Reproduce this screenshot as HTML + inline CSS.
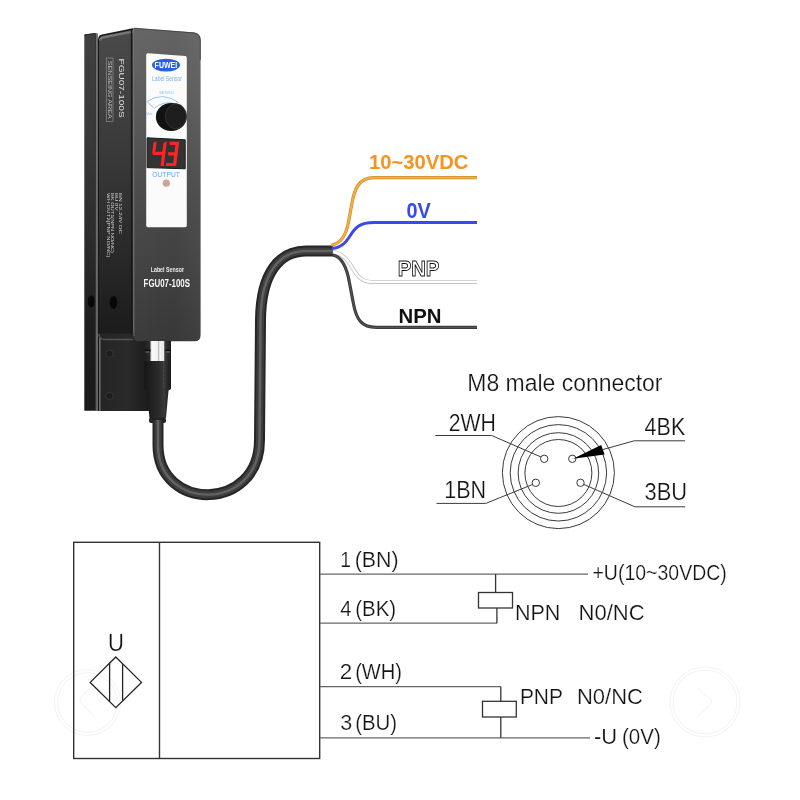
<!DOCTYPE html>
<html><head><meta charset="utf-8"><style>
html,body{margin:0;padding:0;background:#fff;width:800px;height:800px;overflow:hidden}
svg{display:block;position:absolute;left:0;top:0;will-change:transform}
text{font-family:"Liberation Sans",sans-serif}
</style></head><body>
<svg width="800" height="800" viewBox="0 0 800 800">
<defs>
  <linearGradient id="gStrip" x1="0" y1="33" x2="0" y2="411" gradientUnits="userSpaceOnUse">
    <stop offset="0" stop-color="#404040"/><stop offset="0.3" stop-color="#383838"/><stop offset="0.58" stop-color="#2a2a2a"/><stop offset="0.76" stop-color="#1e1e1e"/><stop offset="1" stop-color="#1a1a1a"/>
  </linearGradient>
  <linearGradient id="gLine" x1="0" y1="33" x2="0" y2="411" gradientUnits="userSpaceOnUse">
    <stop offset="0" stop-color="#6a6a6a"/><stop offset="0.5" stop-color="#666"/><stop offset="1" stop-color="#5a5a5a"/>
  </linearGradient>
  <linearGradient id="gSide" x1="0" y1="28" x2="0" y2="334" gradientUnits="userSpaceOnUse">
    <stop offset="0" stop-color="#4a4a4a"/><stop offset="0.4" stop-color="#3a3a3a"/><stop offset="0.72" stop-color="#2a2a2a"/><stop offset="0.95" stop-color="#1e1e1e"/><stop offset="1" stop-color="#1c1c1c"/>
  </linearGradient>
  <linearGradient id="gPlate" x1="0" y1="0" x2="1" y2="0">
    <stop offset="0" stop-color="#242424"/><stop offset="0.55" stop-color="#2a2a2a"/><stop offset="1" stop-color="#1c1c1c"/>
  </linearGradient>
  <linearGradient id="gFront" x1="0" y1="28" x2="0" y2="341" gradientUnits="userSpaceOnUse">
    <stop offset="0" stop-color="#636363"/><stop offset="0.2" stop-color="#5c5c5c"/><stop offset="0.5" stop-color="#4a4a4a"/><stop offset="1" stop-color="#383838"/>
  </linearGradient>
  <linearGradient id="gFrontH" x1="0" y1="0" x2="1" y2="0">
    <stop offset="0" stop-color="#fff" stop-opacity="0.02"/><stop offset="0.6" stop-color="#fff" stop-opacity="0"/><stop offset="1" stop-color="#fff" stop-opacity="0.04"/>
  </linearGradient>
  <linearGradient id="gNut" x1="144" y1="0" x2="171" y2="0" gradientUnits="userSpaceOnUse">
    <stop offset="0" stop-color="#1e1e1e"/><stop offset="0.22" stop-color="#2c2c2c"/><stop offset="0.26" stop-color="#d8d8d8"/><stop offset="0.3" stop-color="#fafafa"/><stop offset="0.52" stop-color="#f0f0f0"/><stop offset="0.55" stop-color="#9a9a9a"/><stop offset="0.58" stop-color="#f4f4f4"/><stop offset="0.73" stop-color="#eaeaea"/><stop offset="0.77" stop-color="#3a3a3a"/><stop offset="1" stop-color="#1a1a1a"/>
  </linearGradient>
  <linearGradient id="gBoot" x1="144" y1="0" x2="171" y2="0" gradientUnits="userSpaceOnUse">
    <stop offset="0" stop-color="#161616"/><stop offset="0.3" stop-color="#222"/><stop offset="0.6" stop-color="#2e2e2e"/><stop offset="0.75" stop-color="#3a3a3a"/><stop offset="0.85" stop-color="#2a2a2a"/><stop offset="1" stop-color="#1a1a1a"/>
  </linearGradient>
</defs>
<rect width="800" height="800" fill="#fff"/>
<g id="wm" fill="none" stroke="#f3f3f3" stroke-width="1">
  <circle cx="87.5" cy="702.5" r="33"/>
  <circle cx="87.5" cy="702.5" r="29.8"/>
  <path d="M95 683 L82 696 Q78 700 82 704 L95 717"/>
  <circle cx="705" cy="702" r="35"/>
  <circle cx="705" cy="702" r="32"/>
  <path d="M698 688 L711 700 Q713 702 711 704 L698 716"/>
</g>

<!-- ===== SENSOR (placeholder) ===== -->
<g id="sensor">
  <!-- left bracket strip -->
  <path d="M84.3 35.2 Q84.5 34.5 86 34.3 L95.4 33.3 L95.4 410.8 L84.3 410.8 Z" fill="url(#gStrip)"/>
  <path d="M84.5 35 L95.4 33.4" fill="none" stroke="#222" stroke-width="1"/>
  <rect x="95.2" y="33.3" width="1.4" height="377.5" fill="#1a1a1a"/>
  <rect x="96.3" y="33.3" width="1.6" height="377.5" fill="url(#gLine)"/>
  <!-- bottom back plate -->
  <path d="M98 333 L149.5 333 L149.5 411 L98 411 Z" fill="url(#gPlate)"/>
  <path d="M99 334 Q99.6 339.3 104 339.5 L133 339.5" fill="none" stroke="#555" stroke-width="1.3"/>
  <rect x="98.8" y="338" width="1.8" height="73" fill="#6a6a6a"/>
  <rect x="97.9" y="338" width="1" height="73" fill="#151515"/>
  <!-- middle side face -->
  <path d="M97.9 40 Q98.2 34.8 102 34.4 L133.5 28 L133.5 333.5 L97.9 333.5 Z" fill="url(#gSide)"/>
  <path d="M99 38.5 Q99.5 35.6 102.5 35.3 L133 29.3" fill="none" stroke="#111" stroke-width="1.1"/>
  <path d="M100 40.5 Q100.6 37.6 103 37.3 L133 31.6" fill="none" stroke="#777" stroke-width="2.2"/>
  <rect x="97.9" y="39" width="1.1" height="294.5" fill="#151515"/>
  <rect x="130.8" y="30" width="1.4" height="303" fill="#1a1a1a"/>
  <!-- holes -->
  <ellipse cx="91.2" cy="301.5" rx="3.4" ry="6" fill="#080808"/>
  <ellipse cx="113.5" cy="302.4" rx="3.8" ry="6.5" fill="#080808"/>
  <!-- screws on plate -->
  <circle cx="109.5" cy="353.7" r="3.7" fill="#1e1e1e" stroke="#383838" stroke-width="0.9"/>
  <circle cx="109.5" cy="395.9" r="3.7" fill="#1e1e1e" stroke="#383838" stroke-width="0.9"/>
  <!-- front face -->
  <path d="M133.5 27.9 L194 32.6 Q200.5 33.5 200.6 40 L200.6 335 Q200.6 341.3 194.5 341.3 L139 341.3 Q133.5 341.3 133.5 335.5 Z" fill="url(#gFront)"/>
  <path d="M133.5 27.9 L194 32.6 Q200.5 33.5 200.6 40 L200.6 335 Q200.6 341.3 194.5 341.3 L139 341.3 Q133.5 341.3 133.5 335.5 Z" fill="url(#gFrontH)"/>
  <line x1="133.9" y1="30" x2="133.9" y2="336" stroke="#666" stroke-width="1"/>
  <path d="M134 28.2 L194 32.9 Q200.2 33.8 200.3 40 L200.3 60" fill="none" stroke="#3a3a3a" stroke-width="0.8"/>
  <!-- white label -->
  <path d="M148 53.2 L185 56 Q186.8 56.2 186.8 58 L186.8 225.2 Q186.8 227.2 185 227.2 L148 227.2 Q146.2 227.2 146.2 225.2 L146.2 55.2 Q146.2 53.1 148 53.2 Z" fill="#fbfbfb"/>
  <ellipse cx="166" cy="65.1" rx="14" ry="6.4" fill="#2b5fe0"/>
  <text x="154.6" y="67.8" font-size="8.4" font-weight="bold" fill="#fff" textLength="22.6" lengthAdjust="spacingAndGlyphs">FUWEI</text>
  <text x="152" y="80.6" font-size="6.6" fill="#7ab4f0" textLength="30" lengthAdjust="spacingAndGlyphs">Label Sensor</text>
  <text x="159" y="94" font-size="4.4" fill="#8cc0f0" textLength="15" lengthAdjust="spacingAndGlyphs">SENSO</text>
  <path d="M146.9 101.5 Q163 91 178.8 102.8 M154.4 108.4 Q163 100 178 104 M146.9 101.5 L154.4 108.4" fill="none" stroke="#8ec2f2" stroke-width="0.9"/>
  <text x="146.3" y="115.2" font-size="4.4" fill="#8cc0f0" textLength="6.2" lengthAdjust="spacingAndGlyphs">Max</text>
  <!-- knob -->
  <ellipse cx="171.2" cy="117" rx="15.3" ry="14" fill="#121212"/>
  <ellipse cx="176" cy="116.3" rx="10.5" ry="12.5" fill="#1e1e1e" stroke="#3a3a3a" stroke-width="0.8"/>
  <!-- display -->
  <path d="M147.1 137.8 L185.2 139.8 L185.2 168.8 L147.1 167.6 Z" fill="#333" stroke="#1a1a1a" stroke-width="1"/>
  <g fill="#ff2424" transform="translate(0,166) skewX(-7) translate(0,-166)">
    <polygon points="150.6,142.6 153.7,141.4 153.7,151.6 150.6,152.8"/>
    <polygon points="150.6,151.8 163.6,151.8 163.6,155 151.6,155"/>
    <polygon points="160.6,142.8 163.8,141.6 163.8,166 160.6,166"/>
    <polygon points="166.2,141.8 176.2,141.8 175.6,145 167.4,145"/>
    <polygon points="172.8,143.8 176.2,141.8 176.1,166 172.8,165.2"/>
    <polygon points="166,152.2 175,152.2 175,155.4 167.2,155.4"/>
    <polygon points="165.6,162.9 174.6,162.9 174.6,166 165.6,166"/>
  </g>
  <text x="152.3" y="177.3" font-size="6.6" fill="#5aa8ef" textLength="27.5" lengthAdjust="spacingAndGlyphs">OUTPUT</text>
  <circle cx="166.3" cy="183.2" r="3.6" fill="#c9a898"/>
  <!-- front texts -->
  <text x="150.7" y="271.9" font-size="7.2" font-weight="bold" fill="#ececec" textLength="33.3" lengthAdjust="spacingAndGlyphs">Label  Sensor</text>
  <text x="143.6" y="286.6" font-size="11" font-weight="bold" fill="#f8f8f8" textLength="46.4" lengthAdjust="spacingAndGlyphs">FGU07-100S</text>
  <!-- side texts (rotated) -->
  <g transform="translate(118.9,58.6) rotate(90)" fill="#e2e2e2">
    <text x="0" y="-0.2" font-size="7.3" textLength="59" lengthAdjust="spacingAndGlyphs">FGU07-100S</text>
  </g>
  <rect x="106.25" y="58" width="6.75" height="63.5" fill="none" stroke="#999" stroke-width="0.6"/>
  <g transform="translate(107.8,60.8) rotate(90)" fill="#bdbdbd">
    <text x="0" y="0" font-size="5.4" textLength="57.9" lengthAdjust="spacingAndGlyphs">SENSEING  AREA</text>
  </g>
  <g transform="translate(119.2,193) rotate(90)" fill="#d8d8d8" font-size="3.9">
    <text x="0" y="0" textLength="41" lengthAdjust="spacingAndGlyphs">BN 12-24V DC</text>
    <text x="0" y="3.95" textLength="17.4" lengthAdjust="spacingAndGlyphs">BU 0V</text>
    <text x="0" y="7.9" textLength="60" lengthAdjust="spacingAndGlyphs">BK OUT1(NPN NO/NC)</text>
    <text x="0" y="12.1" textLength="64.6" lengthAdjust="spacingAndGlyphs">WH OUT2(PNP NO/NC)</text>
  </g>
  <!-- connector -->
  <rect x="144" y="341" width="27" height="20" fill="url(#gNut)"/>
  <rect x="145" y="349.5" width="5.5" height="2" fill="#0e0e0e"/>
  <rect x="145.5" y="351.5" width="4" height="0.9" fill="#888"/>
  <rect x="165.5" y="349.5" width="5" height="2" fill="#0e0e0e"/>
  <rect x="166" y="351.5" width="4" height="0.9" fill="#888"/>
  <path d="M144.2 361 L171 361 L171 389 L168.5 390.5 L166 418 L149.5 418 L146.5 390.5 L144.2 389 Z" fill="url(#gBoot)"/>
  <line x1="163.5" y1="362" x2="163.5" y2="388" stroke="#4a4a4a" stroke-width="0.8" stroke-dasharray="2.5 1.5"/>
  <rect x="149" y="417.5" width="17" height="5.5" rx="2" fill="#242424"/>
  </g>

<!-- ===== CABLE ===== -->
<g id="cable" fill="none">
  <path id="cp" d="M158 420 L158 445 C158 512 259.5 512 259.5 440 L260.5 320 C261 272 280 251 306 251 L333 251" stroke="#262626" stroke-width="11"/>
  <path d="M158 420 L158 445 C158 512 259.5 512 259.5 440 L260.5 320 C261 272 280 251 306 251 L333 251" stroke="#3e3e3e" stroke-width="7"/>
  <path d="M158 420 L158 445 C158 512 259.5 512 259.5 440 L260.5 320 C261 272 280 251 306 251 L333 251" stroke="#626262" stroke-width="2.4"/>
</g>

<!-- ===== WIRES ===== -->
<g id="wires" fill="none">
  <path d="M331.5 245.2 C341 243.5 346 236 348.5 222 L352 203 C354.5 189 359 177.6 374 177.6 L477 177.6" stroke="#c98a2a" stroke-width="3.2"/>
  <path d="M331.5 245.2 C341 243.5 346 236 348.5 222 L352 203 C354.5 189 359 177.6 374 177.6 L477 177.6" stroke="#fbb03b" stroke-width="1.8"/>
  <path d="M332 248.5 C342 247.5 346 242 350 236 C355 228 359 222.6 374 222.6 L477 222.6" stroke="#3a48f0" stroke-width="3"/>
  <path d="M333 252 C341 253 345.5 257 350 264 C355 272 359 281.9 372 281.9 L477 281.9" stroke="#c4c4c4" stroke-width="4"/>
  <path d="M333 252 C341 253 345.5 257 350 264 C355 272 359 281.9 372 281.9 L477 281.9" stroke="#fff" stroke-width="2.3"/>
  <path d="M333 255 C342 257 347 268 349.5 283 L353.5 304 C356.5 320 362 327.4 376 327.4 L477 327.4" stroke="#3c3c3c" stroke-width="3.2"/>
  <path d="M333 255 C342 257 347 268 349.5 283 L353.5 304 C356.5 320 362 327.4 376 327.4 L477 327.4" stroke="#555" stroke-width="1"/>
</g>

<!-- ===== M8 CONNECTOR ===== -->
<g id="m8" fill="none" stroke="#3a3a3a" stroke-width="1">
  <circle cx="558.4" cy="472.6" r="56"/>
  <circle cx="558.4" cy="472.8" r="48.2"/>
  <circle cx="558.4" cy="473" r="40.3"/>
  <circle cx="558.4" cy="473" r="33.5"/>
  <circle cx="544.2" cy="458.8" r="3.7"/>
  <circle cx="572.3" cy="458.8" r="3.7"/>
  <circle cx="535.8" cy="482.8" r="3.7"/>
  <circle cx="580.5" cy="482.8" r="3.7"/>
  <polyline points="435.3,435.5 491.7,435.5 541,457"/>
  <polyline points="436.5,503.4 485.8,503.4 532.5,484.5"/>
  <polyline points="685.1,440.8 634.2,440.8 603,449.5"/>
  <polyline points="685.1,506.8 634.9,506.8 584,484.5"/>
  <polygon points="573,458.8 601.2,444.9 604.6,454.5" fill="#000" stroke="none"/>
</g>

<!-- ===== WIRING DIAGRAM ===== -->
<g id="diag" fill="none">
  <rect x="73.7" y="542.3" width="246" height="216.2" stroke="#333" stroke-width="1.4"/>
  <line x1="159.5" y1="542.3" x2="159.5" y2="758.5" stroke="#333" stroke-width="1.4"/>
  <polygon points="115.8,657 141.5,682.4 115.8,707.7 90.2,682.4" stroke="#222" stroke-width="1.3"/>
  <line x1="109.6" y1="662.7" x2="109.6" y2="701.3" stroke="#222" stroke-width="1.3"/>
  <line x1="122.6" y1="664.3" x2="122.6" y2="700.5" stroke="#222" stroke-width="1.3"/>
  <g stroke="#666" stroke-width="1.3">
    <line x1="320" y1="574.1" x2="588" y2="574.1"/>
    <line x1="320" y1="623.2" x2="497" y2="623.2"/>
    <line x1="320" y1="686.6" x2="500.8" y2="686.6"/>
    <line x1="320" y1="737.8" x2="590" y2="737.8"/>
  </g>
  <g stroke="#333" stroke-width="1.3">
    <line x1="495.6" y1="574.1" x2="495.6" y2="592.5"/>
    <rect x="478.5" y="592.5" width="34" height="15.5"/>
    <line x1="496.9" y1="608" x2="496.9" y2="623.2"/>
    <line x1="500.8" y1="686.6" x2="500.8" y2="701.3"/>
    <rect x="482.5" y="701.3" width="33.8" height="15.7"/>
    <line x1="500.8" y1="717" x2="500.8" y2="737.8"/>
  </g>
</g>
<g id="alltext" stroke="#fff" stroke-width="0.22">
<text x="368.93" y="169.3" font-size="20.49" fill="#f7931e" font-weight="bold" stroke="none" textLength="99.53" lengthAdjust="spacingAndGlyphs">10~30VDC</text>
<text x="406.41" y="218.4" font-size="21.8" fill="#3548f5" font-weight="bold" stroke="none" textLength="24.32" lengthAdjust="spacingAndGlyphs">0V</text>
<text x="397.65" y="276.2" font-size="22.09" fill="#fff" font-weight="bold" stroke="#111" stroke-width="0.9" textLength="41.65" lengthAdjust="spacingAndGlyphs">PNP</text>
<text x="398.44" y="322.5" font-size="21.08" fill="#111" font-weight="bold" stroke="none" textLength="43.04" lengthAdjust="spacingAndGlyphs">NPN</text>
<text x="467.32" y="390.5" font-size="23.69" fill="#141414" textLength="195.16" lengthAdjust="spacingAndGlyphs">M8 male connector</text>
<text x="448.68" y="431.4" font-size="23.69" fill="#141414" textLength="47.25" lengthAdjust="spacingAndGlyphs">2WH</text>
<text x="644.61" y="434.75" font-size="23.98" fill="#141414" textLength="40.63" lengthAdjust="spacingAndGlyphs">4BK</text>
<text x="444.21" y="497.5" font-size="23.4" fill="#141414" textLength="41.95" lengthAdjust="spacingAndGlyphs">1BN</text>
<text x="644.57" y="500.1" font-size="23.4" fill="#141414" textLength="42.52" lengthAdjust="spacingAndGlyphs">3BU</text>
<text x="108.05" y="651.0" font-size="24.71" fill="#111" textLength="15.9" lengthAdjust="spacingAndGlyphs">U</text>
<text x="340.13" y="566.7" font-size="22.53" fill="#141414" textLength="10.71" lengthAdjust="spacingAndGlyphs">1</text>
<text x="354.67" y="566.7" font-size="21.95" fill="#141414" textLength="43.95" lengthAdjust="spacingAndGlyphs">(BN)</text>
<text x="340.24" y="616.0" font-size="21.8" fill="#141414" textLength="11.26" lengthAdjust="spacingAndGlyphs">4</text>
<text x="355.13" y="616.0" font-size="22.53" fill="#141414" textLength="41.05" lengthAdjust="spacingAndGlyphs">(BK)</text>
<text x="339.87" y="679.0" font-size="22.53" fill="#141414" textLength="12.45" lengthAdjust="spacingAndGlyphs">2</text>
<text x="355.15" y="679.0" font-size="22.97" fill="#141414" textLength="46.89" lengthAdjust="spacingAndGlyphs">(WH)</text>
<text x="340.18" y="730.3" font-size="22.24" fill="#141414" textLength="11.96" lengthAdjust="spacingAndGlyphs">3</text>
<text x="355.13" y="730.3" font-size="21.8" fill="#141414" textLength="41.93" lengthAdjust="spacingAndGlyphs">(BU)</text>
<text x="592.45" y="580.1" font-size="21.22" fill="#141414" textLength="134.36" lengthAdjust="spacingAndGlyphs">+U(10~30VDC)</text>
<text x="514.88" y="619.9" font-size="22.17" fill="#141414" textLength="45.53" lengthAdjust="spacingAndGlyphs">NPN</text>
<text x="578.54" y="619.9" font-size="22.17" fill="#141414" textLength="66.2" lengthAdjust="spacingAndGlyphs">N0/NC</text>
<text x="519.88" y="703.6" font-size="21.8" fill="#141414" textLength="43.13" lengthAdjust="spacingAndGlyphs">PNP</text>
<text x="576.95" y="703.6" font-size="21.8" fill="#141414" textLength="65.99" lengthAdjust="spacingAndGlyphs">N0/NC</text>
<text x="593.92" y="743.9" font-size="22.82" fill="#141414" textLength="23.17" lengthAdjust="spacingAndGlyphs">-U</text>
<text x="621.98" y="743.9" font-size="22.82" fill="#141414" textLength="38.8" lengthAdjust="spacingAndGlyphs">(0V)</text>
</g>
</svg>
</body></html>
